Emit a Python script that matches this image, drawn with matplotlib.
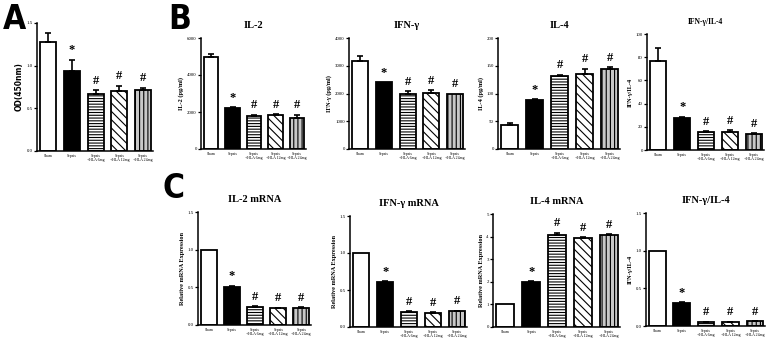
import numpy as np
import matplotlib
matplotlib.use('Agg')
import matplotlib.pyplot as plt

plt.rcParams['font.family'] = ['Liberation Serif', 'DejaVu Serif']
plt.rcParams['hatch.linewidth'] = 0.8

groups = ['Sham', 'Sepsis', 'Sepsis\n+HLA 6mg', 'Sepsis\n+HLA 12mg', 'Sepsis\n+HLA 24mg']
marks = ['', '*', '#', '#', '#']

# panel A
od_vals = [1.28, 0.94, 0.67, 0.70, 0.71]
od_err = [0.10, 0.13, 0.04, 0.06, 0.03]

# panel B (serum)
il2_vals = [5000, 2200, 1800, 1820, 1700]
il2_err = [150, 60, 50, 60, 150]
ifn_vals = [3180, 2400, 2000, 2020, 2000]
ifn_err = [160, 0, 80, 90, 0]
il4_vals = [43, 88, 131, 135, 145]
il4_err = [4, 2, 3, 10, 3]
ratio_vals = [77, 28, 15.5, 15.5, 14]
ratio_err = [11, 0.5, 0.5, 1.5, 0.5]

# panel C (mRNA)
il2m_vals = [1.0, 0.51, 0.24, 0.22, 0.23]
il2m_err = [0, 0.01, 0.01, 0.01, 0.01]
ifnm_vals = [1.0, 0.61, 0.20, 0.19, 0.21]
ifnm_err = [0, 0.01, 0.01, 0.01, 0.01]
il4m_vals = [1.0, 2.0, 4.05, 3.95, 4.05]
il4m_err = [0, 0.03, 0.12, 0.03, 0.05]
ratiom_vals = [1.0, 0.31, 0.05, 0.05, 0.06]
ratiom_err = [0, 0.01, 0.005, 0.005, 0.005]

W, H = 773, 344
fig = plt.figure(figsize=(W / 100, H / 100), dpi=100)

faces = ['white', 'black', 'white', 'white', '#c8c8c8']
hatches = [None, None, '------', '\\\\\\\\', '||||']


def panel(box, vals, err, ylim, yticks, ylabel, title=None, ticklab=None):
    l, r, t, b = box
    ax = fig.add_axes([l / W, 1 - b / H, (r - l) / W, (b - t) / H])
    x = np.arange(len(vals))
    for i in range(len(vals)):
        ax.bar(x[i], vals[i], width=0.68, color=faces[i], edgecolor='black',
               linewidth=1.3, hatch=hatches[i], zorder=2)
        if err[i] > 0:
            ax.errorbar(x[i], vals[i], yerr=[[0], [err[i]]], fmt='none',
                        ecolor='black', elinewidth=1.2, capsize=2.5, capthick=1.2, zorder=3)
        if marks[i]:
            top = vals[i] + err[i] + (ylim[1] - ylim[0]) * 0.03
            ax.text(x[i], top, marks[i], ha='center', va='bottom',
                    fontsize=9 if marks[i] == '*' else 9, fontweight='bold')
    ax.set_xlim(-0.47, 4.42)
    ax.set_ylim(*ylim)
    ax.set_yticks(yticks)
    ax.set_yticklabels([ticklab(v) for v in yticks] if ticklab else yticks,
                       fontsize=3.5)
    ax.set_xticks(x)
    ax.set_xticklabels(groups, fontsize=2.8, linespacing=1.1)
    ax.tick_params(axis='x', length=0, pad=2)
    ax.tick_params(axis='y', length=2, width=0.9, pad=1)
    for s in ['top', 'right']:
        ax.spines[s].set_visible(False)
    for s in ['left', 'bottom']:
        ax.spines[s].set_linewidth(1.1)
    ax.set_ylabel(ylabel, fontsize=4.5, fontweight='bold', labelpad=2)
    if title:
        ax.set_title(title, fontsize=7.5, fontweight='bold', pad=7)
    return ax


one_dec = lambda v: f'{v:.1f}'
intlab = lambda v: f'{v:d}'

axA = panel((37, 153, 23, 151), od_vals, od_err, (0, 1.5), [0.0, 0.5, 1.0, 1.5],
            'OD(450nm)', ticklab=one_dec)
axA.yaxis.label.set_family('DejaVu Sans')
axA.yaxis.label.set_size(5.5)

panel((201, 306, 38, 149), il2_vals, il2_err, (0, 6000), [0, 2000, 4000, 6000],
      'IL-2 (pg/ml)', 'IL-2', intlab)
panel((349, 465, 38, 149), ifn_vals, ifn_err, (0, 4000), [0, 1000, 2000, 3000, 4000],
      'IFN-γ (pg/ml)', 'IFN-γ', intlab)
panel((498, 620, 38, 149), il4_vals, il4_err, (0, 200), [0, 50, 100, 150, 200],
      'IL-4 (pg/ml)', 'IL-4', intlab)
axr = panel((647, 764, 34, 150), ratio_vals, ratio_err, (0, 100), [0, 20, 40, 60, 80, 100],
            'IFN-γ/IL-4', 'IFN-γ/IL-4', intlab)
axr.title.set_size(5.5)

panel((198, 311, 212, 325), il2m_vals, il2m_err, (0, 1.5), [0.0, 0.5, 1.0, 1.5],
      'Relative mRNA Expression', 'IL-2 mRNA', one_dec)
panel((350, 467, 216, 327), ifnm_vals, ifnm_err, (0, 1.5), [0.0, 0.5, 1.0, 1.5],
      'Relative mRNA Expression', 'IFN-γ mRNA', one_dec)
panel((493, 620, 214, 327), il4m_vals, il4m_err, (0, 5), [0, 1, 2, 3, 4, 5],
      'Relative mRNA Expression', 'IL-4 mRNA', intlab)
panel((646, 765, 213, 326), ratiom_vals, ratiom_err, (0, 1.5), [0.0, 0.5, 1.0, 1.5],
      'IFN-γ/IL-4', 'IFN-γ/IL-4', one_dec)

for letter, px, py in [('A', 3, 3), ('B', 168, 3), ('C', 163, 172)]:
    fig.text(px / W, 1 - py / H, letter, fontsize=24, fontweight='bold',
             family='DejaVu Sans', ha='left', va='top', stretch='condensed')

fig.savefig('out.png', dpi=100)
